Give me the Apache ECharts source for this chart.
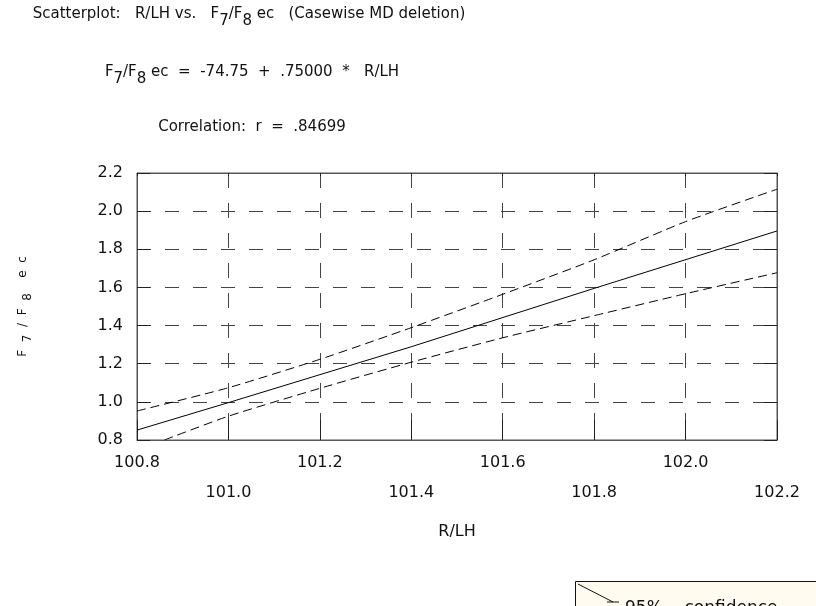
<!DOCTYPE html>
<html>
<head>
<meta charset="utf-8">
<script src="https://cdn.jsdelivr.net/npm/echarts@6/dist/echarts.min.js"></script>
<style>
html,body{margin:0;padding:0;background:#fff;}
#chart{width:816px;height:606px;}
</style>
</head>
<body>
<div id="chart"></div>
<script>
// ---- data ----
var xTicks = [100.8, 101.0, 101.2, 101.4, 101.6, 101.8, 102.0, 102.2];
var yTicks = [0.8, 1.0, 1.2, 1.4, 1.6, 1.8, 2.0, 2.2];

// regression line F7/F8 ec = -74.75 + .75000 * R/LH
var fitX = [100.8, 101.0, 101.4, 101.8, 102.2];
var fitY = [0.852, 0.996, 1.289, 1.595, 1.896];

// 95% confidence band (dashed)
var upperX = [100.8, 101.0, 101.2, 101.4, 101.6, 101.8, 102.0, 102.2];
var upperY = [0.952, 1.074, 1.223, 1.389, 1.564, 1.745, 1.945, 2.115];
var lowerX = [100.86, 101.0, 101.2, 101.4, 101.6, 101.8, 102.0, 102.2];
var lowerY = [0.800, 0.925, 1.071, 1.208, 1.336, 1.452, 1.567, 1.677];

var titleLine1 = 'Scatterplot:   R/LH vs.   F{s|7}/F{s|8} ec   (Casewise MD deletion)';
var titleLine2 = 'F{s|7}/F{s|8} ec  =  -74.75  +  .75000  *   R/LH';
var titleLine3 = 'Correlation:  r  =  .84699';
var xName = 'R/LH';
var yName = 'F  {s|7}  /  F  {s|8}    e  c';
var noteText = '95%    confidence';

function pairs(xs, ys){ return xs.map(function(x,i){ return [x, ys[i]]; }); }

var FONT = 'DejaVu Sans';
var subRich = { s: { fontFamily: FONT, fontSize: 15, color: '#111', padding: [14,0,0,0] } };

var chart = echarts.init(document.getElementById('chart'), null, {renderer:'canvas'});
chart.setOption({
  backgroundColor: '#ffffff',
  animation: false,
  title: [
    { text: titleLine1, left: 249, top: 14, padding: 0, textAlign: 'center', textVerticalAlign: 'middle',
      textStyle: { fontFamily: FONT, fontSize: 15, fontWeight: 'normal', color: '#111', rich: subRich } },
    { text: titleLine2, left: 252, top: 72, padding: 0, textAlign: 'center', textVerticalAlign: 'middle',
      textStyle: { fontFamily: FONT, fontSize: 15, fontWeight: 'normal', color: '#111', rich: subRich } },
    { text: titleLine3, left: 252, top: 127, padding: 0, textAlign: 'center', textVerticalAlign: 'middle',
      textStyle: { fontFamily: FONT, fontSize: 15, fontWeight: 'normal', color: '#111' } }
  ],
  grid: { left: 137, top: 173, width: 640, height: 267, show: true, borderColor: '#555', borderWidth: 1, backgroundColor: 'transparent' },
  xAxis: [
    { type: 'value', min: xTicks[0], max: xTicks[xTicks.length-1], interval: 0.2, position: 'bottom',
      axisLine: { show: true, lineStyle: { color: '#555' } },
      axisTick: { show: true, inside: true, length: 20, lineStyle: { color: '#222' } },
      axisLabel: { show: true, margin: 8, fontFamily: FONT, fontSize: 16, color: '#111', lineHeight: 30,
        showMinLabel: true, showMaxLabel: true,
        formatter: function(v, i){ var s = v.toFixed(1); return (i % 2 === 1) ? '\n' + s : s; } },
      splitLine: { show: true, lineStyle: { color: '#444', width: 1, type: [15,15], dashOffset: 0 } },
      name: xName, nameLocation: 'middle', nameGap: 84,
      nameTextStyle: { fontFamily: FONT, fontSize: 16, color: '#111' } },
    { type: 'value', min: xTicks[0], max: xTicks[xTicks.length-1], interval: 0.2, position: 'top',
      axisLine: { show: true, lineStyle: { color: '#555' } },
      axisTick: { show: true, inside: true, length: 3, lineStyle: { color: '#222' } },
      axisLabel: { show: false }, splitLine: { show: false } }
  ],
  yAxis: [
    { type: 'value', min: yTicks[0], max: yTicks[yTicks.length-1], interval: 0.2, position: 'left',
      axisLine: { show: true, lineStyle: { color: '#555' } },
      axisTick: { show: true, inside: true, length: 13, lineStyle: { color: '#222' } },
      axisLabel: { show: true, margin: 14, fontFamily: FONT, fontSize: 16, color: '#111', padding: [0,0,10,0],
        showMinLabel: true, showMaxLabel: true,
        formatter: function(v){ return v.toFixed(1); } },
      splitLine: { show: true, lineStyle: { color: '#444', width: 1, type: [14,14] } },
      name: yName, nameLocation: 'middle', nameRotate: 90, nameGap: 103,
      nameTextStyle: { fontFamily: FONT, fontSize: 12, color: '#111',
        rich: { s: { fontFamily: FONT, fontSize: 12, color: '#111', padding: [10,0,0,0] } } } },
    { type: 'value', min: yTicks[0], max: yTicks[yTicks.length-1], interval: 0.2, position: 'right',
      axisLine: { show: true, lineStyle: { color: '#555' } },
      axisTick: { show: true, inside: true, length: 13, lineStyle: { color: '#222' } },
      axisLabel: { show: false }, splitLine: { show: false } }
  ],
  series: [
    { name: 'Regression', type: 'line', xAxisIndex: 0, yAxisIndex: 0, data: pairs(fitX, fitY),
      showSymbol: false, symbol: 'none', lineStyle: { color: '#000', width: 1, type: 'solid' }, z: 5, silent: true },
    { name: '95% confidence (upper)', type: 'line', xAxisIndex: 0, yAxisIndex: 0, data: pairs(upperX, upperY),
      showSymbol: false, symbol: 'none', smooth: 0.2, lineStyle: { color: '#000', width: 1, type: [9,5] }, z: 5, silent: true },
    { name: '95% confidence (lower)', type: 'line', xAxisIndex: 0, yAxisIndex: 0, data: pairs(lowerX, lowerY),
      showSymbol: false, symbol: 'none', smooth: 0.2, lineStyle: { color: '#000', width: 1, type: [9,5] }, z: 5, silent: true }
  ],
  graphic: [
    { type: 'rect', shape: { x: 575.5, y: 581.5, width: 260, height: 60 },
      style: { fill: '#fffbf0', stroke: '#111', lineWidth: 1 }, z: 10 },
    { type: 'line', shape: { x1: 578, y1: 584, x2: 613, y2: 602 }, style: { stroke: '#111', lineWidth: 1 }, z: 11 },
    { type: 'line', shape: { x1: 607, y1: 602, x2: 619, y2: 602 }, style: { stroke: '#111', lineWidth: 1 }, z: 11 },
    { type: 'text', x: 625, y: 600, style: { text: noteText, fontFamily: FONT, fontSize: 17, fill: '#111', verticalAlign: 'top', align: 'left' }, z: 11 }
  ]
});
</script>
</body>
</html>
